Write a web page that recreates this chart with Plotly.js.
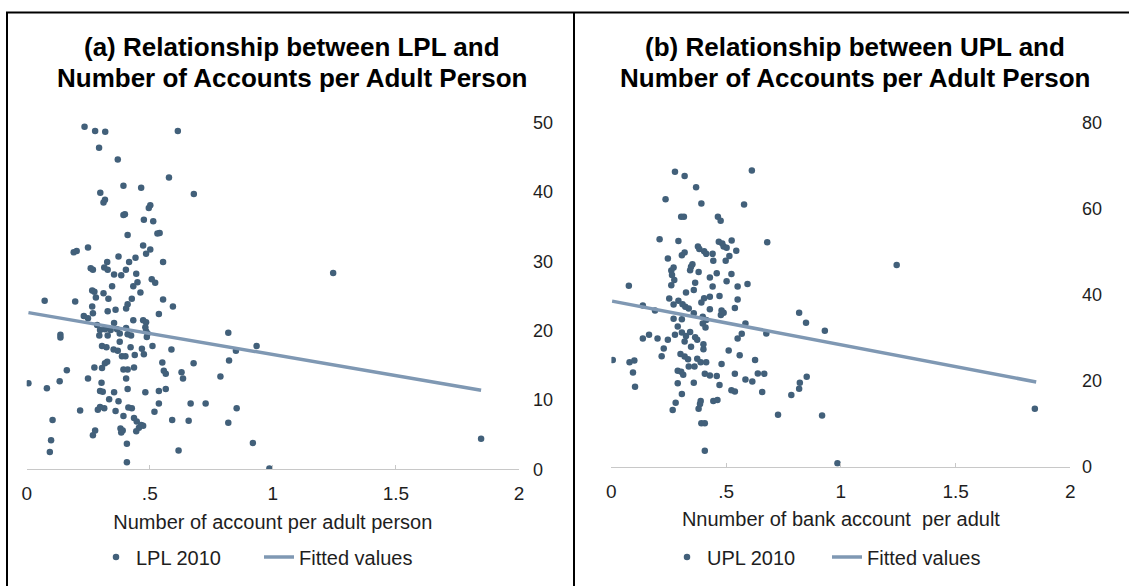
<!DOCTYPE html>
<html>
<head>
<meta charset="utf-8">
<script src="https://cdn.plot.ly/plotly-3.0.1.min.js"></script>
<style>
html,body{margin:0;padding:0;background:#fff;}
#chart{width:1129px;height:586px;}
</style>
</head>
<body>
<div id="chart"></div>
<script>
// ---------- Panel (a): LPL 2010 vs accounts per adult ----------
const lplX = [0.235,0.278,0.319,0.614,0.294,0.370,0.578,0.393,0.465,0.299,0.679,0.318,0.312,0.502,0.496,0.393,0.399,0.476,0.514,0.540,
0.531,0.410,0.473,0.502,0.485,0.249,0.203,0.191,0.373,0.442,0.327,0.554,0.416,0.403,0.315,0.269,0.260,0.329,0.445,0.508,
0.522,0.355,0.347,0.384,0.450,0.433,0.462,0.266,0.275,0.312,0.281,0.332,0.554,0.197,0.073,0.427,0.410,0.594,0.404,0.266,
0.329,0.361,0.269,0.232,0.537,0.249,0.433,0.473,0.137,0.137,0.286,0.355,0.298,0.318,0.341,0.367,0.404,0.410,0.424,0.295,
0.329,0.378,0.485,0.482,0.485,0.491,0.488,0.819,0.306,0.324,0.353,0.370,0.387,0.378,0.422,0.468,0.476,0.439,0.511,0.588,
0.934,0.850,0.401,0.551,0.327,0.318,0.678,0.822,0.557,0.565,0.629,0.635,0.275,0.306,0.393,0.410,0.436,0.163,0.249,0.404,
0.787,0.134,0.007,0.082,0.304,0.410,0.298,0.309,0.355,0.482,0.537,0.565,0.335,0.373,0.298,0.289,0.315,0.361,0.413,0.427,
0.217,0.519,0.537,0.666,0.727,0.853,0.393,0.436,0.447,0.465,0.456,0.473,0.105,0.591,0.658,0.819,0.381,0.390,0.384,0.445,
0.278,0.269,0.099,0.407,0.919,1.846,0.094,0.617,0.407,0.986,1.245];
const lplY = [49.4,48.8,48.7,48.8,46.4,44.7,42.1,40.9,40.6,39.9,39.7,38.9,38.5,38.1,37.7,36.7,36.8,36.0,35.8,34.1,
34.0,33.8,32.3,31.7,31.1,32.0,31.5,31.3,30.7,30.5,29.9,29.9,29.9,28.8,29.1,28.8,29.0,28.8,28.2,27.4,
26.9,28.1,26.4,28.0,27.0,26.4,25.5,25.8,25.6,25.4,24.8,24.6,24.5,24.2,24.3,24.6,23.8,23.5,23.2,23.5,
22.8,23.0,22.5,22.1,22.4,21.8,21.5,21.5,19.4,19.0,20.8,21.1,20.1,20.2,20.1,20.2,20.4,19.5,19.3,19.3,
19.3,19.6,21.2,20.5,19.9,19.6,19.1,19.7,17.8,17.6,17.3,17.1,16.3,18.4,17.6,17.4,16.6,16.5,17.8,17.3,
17.8,17.1,16.3,15.4,15.5,15.3,15.3,15.7,14.2,13.8,14.0,13.1,14.7,14.6,14.4,14.4,14.7,14.3,13.1,13.1,
13.4,12.7,12.4,11.7,12.5,11.6,11.3,11.2,11.1,11.1,11.3,11.6,10.1,9.8,9.0,8.6,8.8,8.4,8.9,8.8,
8.5,8.3,9.5,9.5,9.5,8.8,7.7,7.4,6.9,6.4,6.0,6.3,7.1,7.1,7.0,6.7,5.9,5.6,5.3,5.5,
5.6,4.9,4.2,3.7,3.8,4.4,2.5,2.7,1.0,0.1,28.3];
const lplFitX = [0.007, 1.846];
const lplFitY = [22.6, 11.4];

// ---------- Panel (b): UPL 2010 vs accounts per adult ----------
const uplX = [0.277,0.319,0.612,0.369,0.236,0.392,0.578,0.304,0.316,0.464,0.476,0.210,0.292,0.679,0.524,0.468,0.483,0.489,0.502,0.544,
0.377,0.383,0.404,0.319,0.307,0.246,0.413,0.441,0.353,0.347,0.343,0.444,0.498,0.514,0.380,0.261,0.271,0.264,0.274,0.459,
0.523,0.365,0.502,0.441,0.429,0.550,0.593,0.076,0.359,0.325,0.261,0.471,0.429,0.404,0.392,0.550,0.252,0.271,0.292,0.310,
0.322,0.337,0.429,0.480,0.477,0.538,0.489,0.137,0.190,0.359,0.271,0.307,0.398,0.413,0.398,0.410,0.289,0.584,0.818,0.848,
0.930,0.675,0.164,0.137,0.201,0.246,0.277,0.307,0.325,0.343,0.365,0.319,0.347,0.374,0.568,0.550,0.401,0.401,0.228,0.219,
0.301,0.319,0.334,0.374,0.389,0.413,0.511,0.559,0.006,0.079,0.100,0.337,0.362,0.480,0.626,0.094,0.289,0.304,0.313,0.407,
0.429,0.459,0.538,0.584,0.614,0.638,0.666,0.289,0.359,0.471,0.103,0.523,0.538,0.657,0.307,0.821,0.851,0.818,0.784,0.444,
0.462,0.280,0.389,0.386,0.267,0.380,0.726,0.918,0.392,0.407,0.407,0.985,1.243,1.845];
const uplY = [68.6,67.6,68.9,65.0,62.2,61.2,61.0,58.1,58.1,58.1,57.2,52.9,52.5,52.2,52.6,52.3,51.9,51.2,50.9,50.2,
51.2,50.6,50.1,49.8,49.2,48.4,49.5,49.5,47.1,46.5,45.7,47.9,47.9,49.0,45.3,45.6,46.3,44.6,43.4,45.0,
44.8,42.8,43.1,41.9,44.0,41.9,42.5,42.1,41.1,40.5,42.2,39.7,39.5,39.2,38.2,38.9,39.1,37.7,38.6,37.8,
37.2,36.8,36.6,36.3,35.3,36.9,35.8,37.5,36.3,35.7,34.4,34.3,34.9,34.1,33.3,32.4,32.6,33.3,35.8,33.5,
31.6,31.0,30.7,29.8,29.8,29.5,30.7,31.2,30.4,31.3,30.1,29.1,27.9,29.5,30.9,29.8,28.5,27.3,27.5,25.7,
26.2,25.6,25.0,25.1,24.3,24.3,27.0,25.9,24.8,24.3,24.7,23.3,23.3,23.9,24.8,21.9,22.3,22.1,21.4,21.6,
21.2,21.1,21.6,20.3,19.8,21.7,21.6,19.4,19.5,19.0,18.6,17.8,17.5,17.4,16.9,19.5,20.9,18.1,16.7,15.3,
15.5,14.9,15.3,14.6,13.2,13.5,12.1,11.9,10.1,10.1,3.7,0.8,46.9,13.5];
const uplFitX = [0.003, 1.851];
const uplFitY = [38.5, 19.7];

// ---------- Text ----------
const titleA = ["(a) Relationship between LPL and", "Number of Accounts per Adult Person"];
const titleB = ["(b) Relationship between UPL and", "Number of Accounts per Adult Person"];
const xTitleA = "Number of account per adult person";
const xTitleB = "Nnumber of bank account  per adult";
const xTickVals = [0, 0.5, 1, 1.5, 2];
const xTickText = ["0", ".5", "1", "1.5", "2"];
const yTickA = [0, 10, 20, 30, 40, 50];
const yTickB = [0, 20, 40, 60, 80];

const W = 1129, H = 586;
const FONT = "Liberation Sans, Arial, sans-serif";
const TXT = "#1e1e1e";
const DOT = "#42607a";
const FIT = "#7f98b3";
const px = v => v / W;
const py = v => 1 - v / H;

const traces = [
  {x: lplX, y: lplY, type: "scatter", mode: "markers", name: "LPL 2010",
   marker: {color: DOT, size: 6.5}, xaxis: "x", yaxis: "y", legend: "legend"},
  {x: lplFitX, y: lplFitY, type: "scatter", mode: "lines", name: "Fitted values",
   line: {color: FIT, width: 3.5}, xaxis: "x", yaxis: "y", legend: "legend"},
  {x: uplX, y: uplY, type: "scatter", mode: "markers", name: "UPL 2010",
   marker: {color: DOT, size: 6.5}, xaxis: "x2", yaxis: "y2", legend: "legend2"},
  {x: uplFitX, y: uplFitY, type: "scatter", mode: "lines", name: "Fitted values",
   line: {color: FIT, width: 3.5}, xaxis: "x2", yaxis: "y2", legend: "legend2"}
];

function xAxis(domain, title, anchor) {
  return {
    domain: domain, range: [0, 2], anchor: anchor,
    tickvals: xTickVals, ticktext: xTickText,
    showline: true, linecolor: "#c8c8c8", linewidth: 1,
    ticks: "inside", ticklen: 4, tickcolor: "#c8c8c8", tickwidth: 1,
    ticklabelstandoff: 7,
    showgrid: false, zeroline: false,
    tickfont: {family: FONT, size: 19, color: TXT},
    title: {text: title, font: {family: FONT, size: 20, color: TXT}, standoff: 11},
    fixedrange: true
  };
}
function yAxis(domain, range, ticks, pos) {
  return {
    domain: domain, range: range, anchor: "free", position: pos, side: "right",
    tickvals: ticks, showline: false, showgrid: false, zeroline: false, ticks: "",
    tickfont: {family: FONT, size: 18, color: TXT}, fixedrange: true
  };
}
function titleAnn(text, x, y) {
  return {text: text, x: px(x), y: py(y), xref: "paper", yref: "paper", showarrow: false,
          xanchor: "center", yanchor: "middle",
          font: {family: FONT, size: 26, color: "#000", weight: "bold"}};
}

const lineStyle = {color: "#000", width: 2};
const legendFont = {family: FONT, size: 20, color: TXT};
const layout = {
  width: W, height: H,
  margin: {l: 0, r: 0, t: 0, b: 0},
  paper_bgcolor: "#fff", plot_bgcolor: "rgba(0,0,0,0)",
  showlegend: true,
  xaxis: xAxis([px(26.7), px(519)], xTitleA, "y"),
  yaxis: yAxis([1 - 469.3 / H, 1 - 122.7 / H], [0, 50], yTickA, px(532)),
  xaxis2: xAxis([px(611.4), px(1070.4)], xTitleB, "y2"),
  yaxis2: yAxis([1 - 466.7 / H, 1 - 122.7 / H], [0, 80], yTickB, px(1081)),
  legend: {orientation: "h", x: px(96), y: py(557), xanchor: "left", yanchor: "middle",
           font: legendFont, bgcolor: "rgba(0,0,0,0)",
           entrywidth: 118, entrywidthmode: "pixels"},
  legend2: {orientation: "h", x: px(667), y: py(557), xanchor: "left", yanchor: "middle",
           font: legendFont, bgcolor: "rgba(0,0,0,0)",
           entrywidth: 115, entrywidthmode: "pixels"},
  annotations: [
    titleAnn(titleA[0], 292, 47), titleAnn(titleA[1], 292, 78),
    titleAnn(titleB[0], 855, 47), titleAnn(titleB[1], 855, 78)
  ],
  shapes: [
    {type: "line", xref: "paper", yref: "paper", x0: px(6), x1: 1, y0: py(12.5), y1: py(12.5), line: lineStyle},
    {type: "line", xref: "paper", yref: "paper", x0: px(7), x1: px(7), y0: py(12), y1: 0, line: lineStyle},
    {type: "line", xref: "paper", yref: "paper", x0: px(574), x1: px(574), y0: py(12), y1: 0, line: lineStyle}
  ]
};

Plotly.newPlot("chart", traces, layout, {staticPlot: true, displayModeBar: false});
</script>
</body>
</html>
